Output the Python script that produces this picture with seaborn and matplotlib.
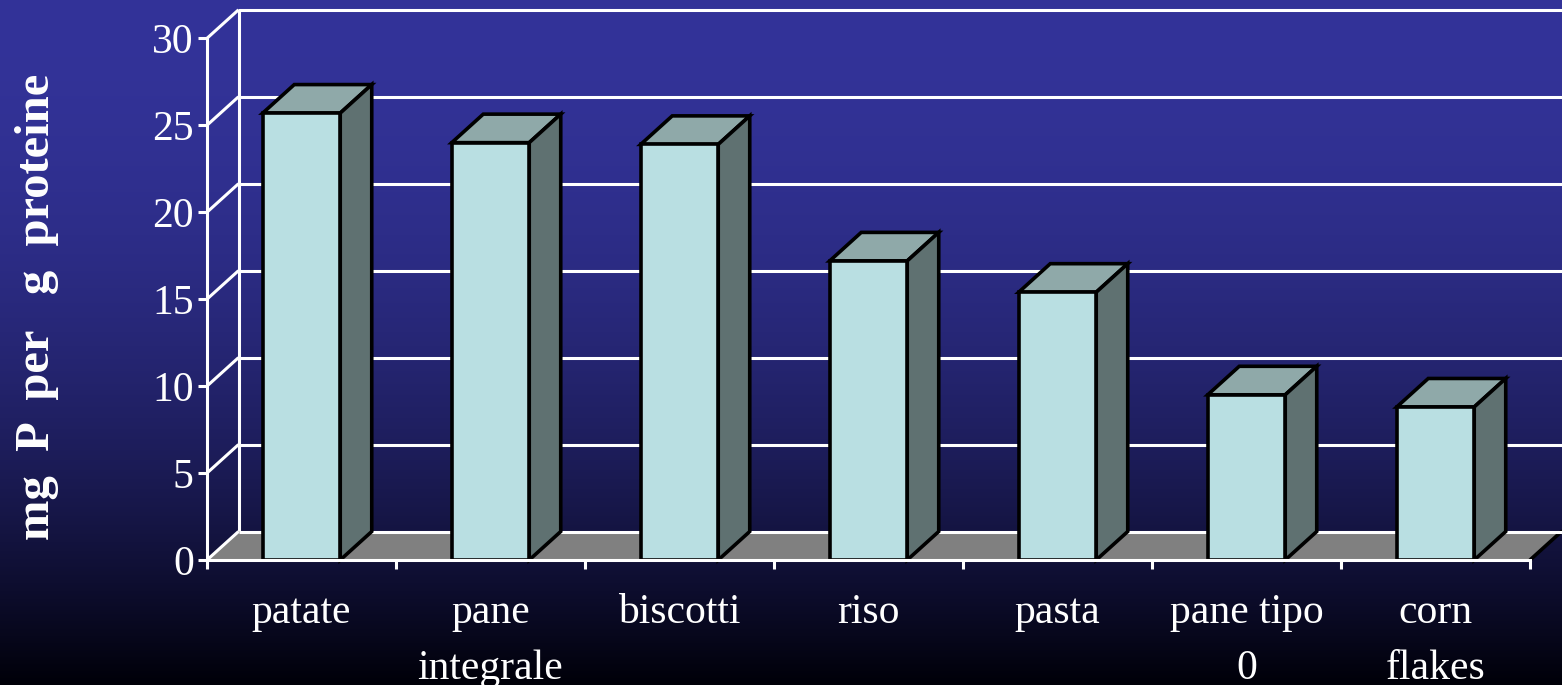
import numpy as np
import matplotlib
matplotlib.use("Agg")
import matplotlib.pyplot as plt
from matplotlib.patches import Polygon
import seaborn as sns
import pandas as pd

# ---------------- data ----------------
categories = ["patate", "pane\nintegrale", "biscotti", "riso", "pasta", "pane tipo\n0", "corn\nflakes"]
values = [25.7, 24.0, 23.9, 17.2, 15.4, 9.5, 8.8]
y_ticks = [0, 5, 10, 15, 20, 25, 30]
y_label = "mg  P  per   g  proteine"

# ---------------- style ----------------
FRONT = "#B9DFE2"
TOPC = "#8FA9A9"
SIDEC = "#5F7171"
FLOOR = "#808080"

W, H = 1562, 685
sns.set_theme(style="white")
plt.rcParams['font.family'] = ['Liberation Serif', 'DejaVu Serif']

fig = plt.figure(figsize=(W / 100, H / 100), dpi=100)

# background gradient
bg = fig.add_axes([0, 0, 1, 1], zorder=-10)
t = np.linspace(0, 1, H)[:, None]
f = 1 - t ** 2
topcol = np.array([51, 51, 153]) / 255
botcol = np.array([0, 0, 8]) / 255
img = botcol + (topcol - botcol) * f[..., None]
img = np.repeat(img, 2, axis=1)
bg.imshow(img, aspect='auto', extent=[0, 1, 0, 1], interpolation='bilinear')
bg.axis('off')

# main axes (front plane)
left, right, bottom_px, top_px = 207, 1530, 560, 38.3
ax = fig.add_axes([left / W, (H - bottom_px) / H, (right - left) / W, (bottom_px - top_px) / H])
ax.patch.set_alpha(0)

n = len(categories)
px_x = (right - left) / n
px_y = (bottom_px - top_px) / 30
DX = 31.5 / px_x
DY = 28.5 / px_y
x0a, x1a = -0.5, n - 0.5

# back wall gridlines and left wall diagonals
glw = 2.2
blw = 2.6
for v in y_ticks:
    z = 1.7 if v == 0 else 1
    ax.plot([x0a + DX, x1a + DX], [v + DY, v + DY], color='white', lw=glw,
            solid_capstyle='butt', clip_on=False, zorder=z)
    ax.plot([x0a, x0a + DX], [v, v + DY], color='white', lw=glw,
            solid_capstyle='butt', clip_on=False, zorder=z)
ax.plot([x0a + DX] * 2, [DY, 30 + DY], color='white', lw=glw, clip_on=False, zorder=1)

# floor
ax.add_patch(Polygon([(x0a, 0), (x1a, 0), (x1a + DX, DY), (x0a + DX, DY)], closed=True,
                     fc=FLOOR, ec='none', clip_on=False, zorder=1.5))
ax.plot([x1a, x1a + DX], [0, DY], color='black', lw=blw, clip_on=False, zorder=1.6)

# bars (front faces)
df = pd.DataFrame({"cat": categories, "val": values})
sns.barplot(data=df, x="cat", y="val", ax=ax, color=FRONT, saturation=1, width=0.41,
            edgecolor='black', linewidth=blw, zorder=3)

for bar in ax.containers[0]:
    bar.set_clip_on(False)
    bx = bar.get_x(); bw = bar.get_width(); bh = bar.get_height()
    top_poly = [(bx, bh), (bx + bw, bh), (bx + bw + DX, bh + DY), (bx + DX, bh + DY)]
    side_poly = [(bx + bw, 0), (bx + bw + DX, DY), (bx + bw + DX, bh + DY), (bx + bw, bh)]
    ax.add_patch(Polygon(top_poly, closed=True, fc=TOPC, ec='black', lw=blw,
                         joinstyle='miter', clip_on=False, zorder=2.9))
    ax.add_patch(Polygon(side_poly, closed=True, fc=SIDEC, ec='black', lw=blw,
                         joinstyle='miter', clip_on=False, zorder=2.9))

ax.set_xlim(x0a, x1a)
ax.set_ylim(0, 30)
ax.set_xlabel("")
ax.set_ylabel("")

# spines
for s in ['top', 'right']:
    ax.spines[s].set_visible(False)
for s in ['left', 'bottom']:
    ax.spines[s].set_color('white')
    ax.spines[s].set_linewidth(glw)
    ax.spines[s].set_zorder(4)

# ticks
ax.set_yticks(y_ticks)
ax.set_yticklabels([str(v) for v in y_ticks])
ax.tick_params(axis='y', colors='white', direction='out', length=6.5, width=glw, pad=3, labelsize=30, left=True)
ax.set_xticks(range(n))
ax.set_xticklabels(categories)
ax.tick_params(axis='x', which='major', length=0, pad=24, labelsize=30, colors='white')
ax.set_xticks(np.arange(x0a, x1a + 0.01, 1), minor=True)
ax.tick_params(axis='x', which='minor', length=6.5, width=glw, color='white', direction='out', bottom=True)
for lab in ax.get_xticklabels():
    lab.set_linespacing(1.6)

fig.text(37 / W, 1 - 307 / H, y_label, rotation=90, fontsize=35, fontweight='bold',
         color='white', ha='center', va='center')

fig.savefig("out.png", dpi=100)
